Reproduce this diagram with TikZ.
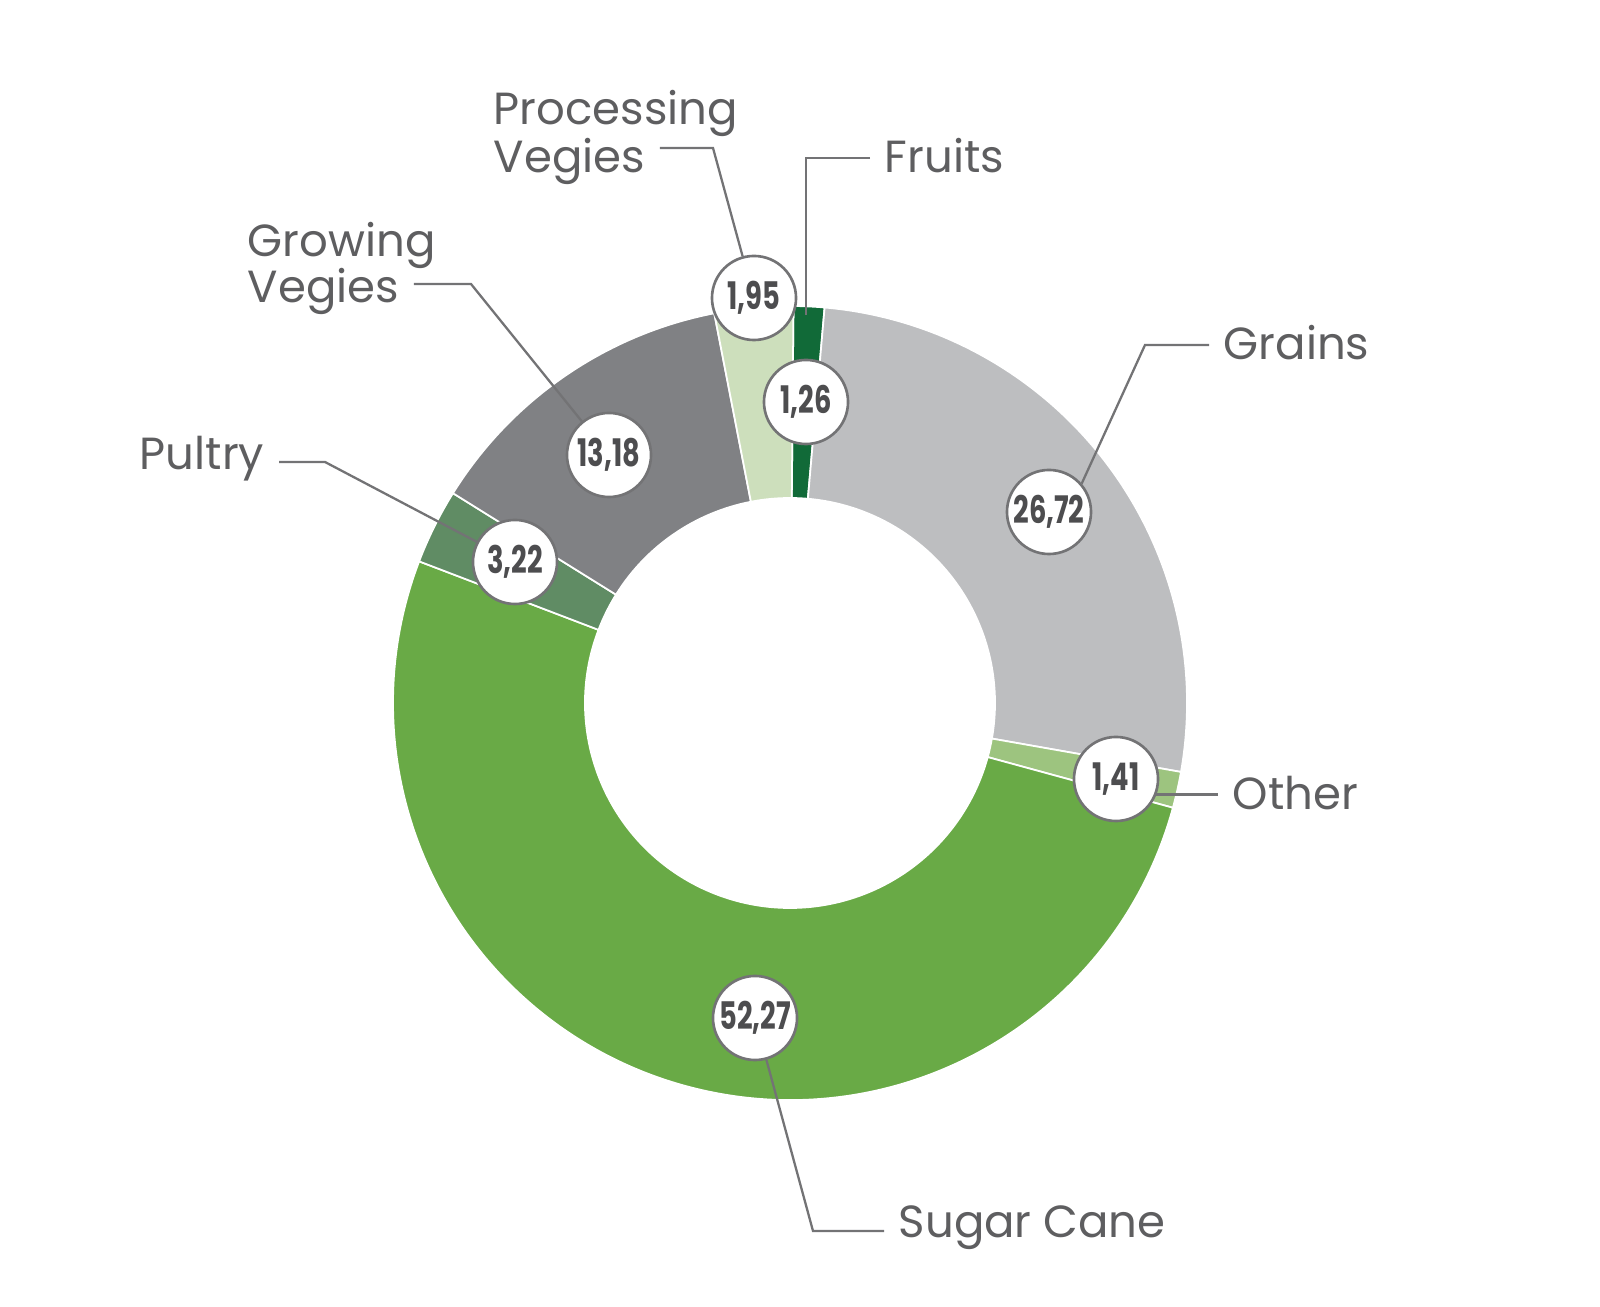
\documentclass[tikz,border=0pt]{standalone}
\usepackage{fontspec}
\setmainfont{Poppins}
\newfontfamily\numfont[FakeStretch=0.72]{Poppins}
\usepackage{tikz}

\definecolor{procc}{HTML}{CDDFBC}
\definecolor{fruitc}{HTML}{116A38}
\definecolor{grainc}{HTML}{BDBEC0}
\definecolor{otherc}{HTML}{9DC47F}
\definecolor{sugarc}{HTML}{69AA46}
\definecolor{pultc}{HTML}{608C64}
\definecolor{growc}{HTML}{808184}
\definecolor{labgray}{HTML}{5E5E60}
\definecolor{numgray}{HTML}{4D4D4F}
\definecolor{ringgray}{HTML}{737375}

\begin{document}
\begin{tikzpicture}[x=0.01cm, y=0.01cm,
  lbl/.style={text=labgray, anchor=base west, inner sep=4pt, font=\fontsize{12.8}{15}\selectfont},
  val/.style={circle, draw=ringgray, line width=0.75pt, fill=white, minimum size=0.84cm, inner sep=0pt, text=numgray, font=\numfont\bfseries\fontsize{10.8}{11}\selectfont},
  lead/.style={draw=ringgray, line width=0.65pt}]

  \useasboundingbox (0,0) rectangle (1600,1306);

  % donut
  \begin{scope}[shift={(790,603)}]
    \foreach \a/\b/\c in {89.5/85/fruitc, 85/-10/grainc, -10/-15.3/otherc, -15.3/-200.9/sugarc,
                          159.1/148.1/pultc, 148.1/101/growc, 101/89.5/procc}
      \fill[\c, draw=white, line width=0.5pt] (\a:397) arc[start angle=\a, end angle=\b, radius=397]
        -- (\b:205) arc[start angle=\b, end angle=\a, radius=205] -- cycle;
  \end{scope}

  % values
  \node[val] (n195) at (754,1008) {1,95};
  \node[val] (n126) at (806,904) {1,26};
  \node[val] (n1318) at (609,851) {13,18};
  \node[val] (n322) at (515,744) {3,22};
  \node[val] (n2672) at (1049,794) {26,72};
  \node[val] (n141) at (1116,527) {1,41};
  \node[val] (n5227) at (755,288) {52,27};

  % labels
  \node[lbl] (procA) at (479,1181) {Processing};
  \node[lbl] (procB) at (479,1133) {Vegies};
  \node[lbl] (fruit) at (870,1133) {Fruits};
  \node[lbl] (growA) at (233,1049) {Growing};
  \node[lbl] (growB) at (233,1003) {Vegies};
  \node[lbl] (pult) at (125,836) {Pultry};
  \node[lbl] (grain) at (1209,946) {Grains};
  \node[lbl] (other) at (1218,496) {Other};
  \node[lbl] (sugar) at (884,68) {Sugar Cane};

  % leaders
  \coordinate (pvk) at (713,1158);
  \coordinate (frk) at (806,1148);
  \coordinate (frt) at (806,991);
  \coordinate (gvk) at (471,1022);
  \coordinate (puk) at (325,844);
  \coordinate (grk) at (1145,961);
  \coordinate (suk) at (813,75);

  \draw[lead] (procB.east |- pvk) -- (pvk) -- (n195);
  \draw[lead] (fruit.west |- frk) -- (frk) -- (frt);
  \draw[lead] (growB.east |- gvk) -- (gvk) -- (n1318);
  \draw[lead] (pult.east |- puk) -- (puk) -- (n322);
  \draw[lead] (grain.west |- grk) -- (grk) -- (n2672.41);
  \draw[lead] (other.west |- n141.-21) -- (n141.-21);
  \draw[lead] (sugar.west |- suk) -- (suk) -- (n5227);
\end{tikzpicture}
\end{document}
